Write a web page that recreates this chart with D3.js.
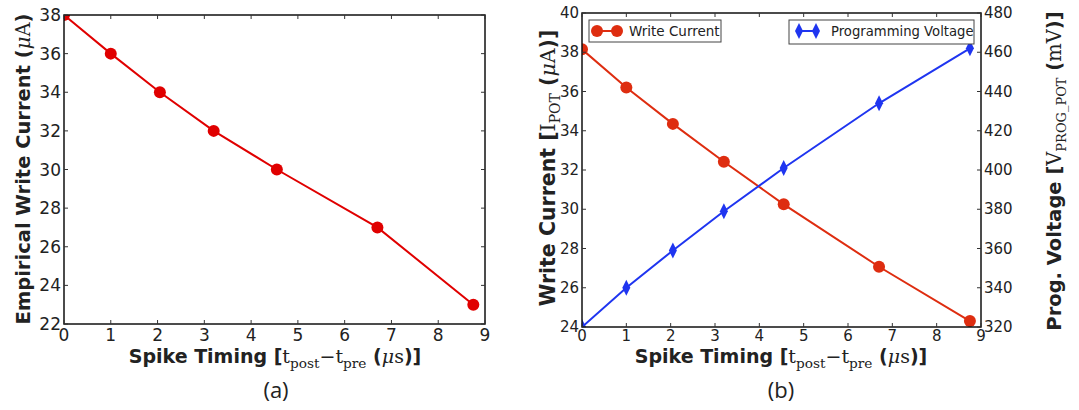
<!DOCTYPE html>
<html>
<head>
<meta charset="utf-8">
<script src="https://cdn.jsdelivr.net/npm/d3@7"></script>
<style>
  body { margin: 0; background: #fff; }
  svg text { fill: #222; }
</style>
</head>
<body>
<svg id="chart" width="1079" height="410"></svg>
<script>
// panel (a)
const timingA = [0, 1.0, 2.05, 3.2, 4.55, 6.7, 8.75];
const currentA = [38, 36, 34, 32, 30, 27, 23];
const xTicksA = [0, 1, 2, 3, 4, 5, 6, 7, 8, 9];
const yTicksA = [22, 24, 26, 28, 30, 32, 34, 36, 38];

// panel (b)
const timingB = [0, 1.0, 2.05, 3.2, 4.55, 6.7, 8.75];
const currentB = [38.15, 36.2, 34.35, 32.42, 30.25, 27.07, 24.3];
const voltageB = [320, 340, 359, 379, 401, 434, 462];
const xTicksB = [0, 1, 2, 3, 4, 5, 6, 7, 8, 9];
const yTicksB = [24, 26, 28, 30, 32, 34, 36, 38, 40];
const vTicksB = [320, 340, 360, 380, 400, 420, 440, 460, 480];

const svg = d3.select("#chart");
const sans = "'DejaVu Sans', sans-serif";
const serif = "'DejaVu Serif', 'Liberation Serif', serif";

function frame(g, x, y, w, h) {
  g.append("rect").attr("x", x.range()[0]).attr("y", y.range()[1])
    .attr("width", w).attr("height", h)
    .attr("fill", "none").attr("stroke", "#111").attr("stroke-width", 1.5);
}

// inward ticks on all four sides, matplotlib-style
function ticks(g, x, y, xt, yt, yRight, yr) {
  const tl = 4;
  const [x0, x1] = x.range(), [y0, y1] = y.range();
  xt.forEach(t => {
    g.append("line").attr("x1", x(t)).attr("x2", x(t)).attr("y1", y0).attr("y2", y0 - tl).attr("stroke", "#333");
    g.append("line").attr("x1", x(t)).attr("x2", x(t)).attr("y1", y1).attr("y2", y1 + tl).attr("stroke", "#333");
  });
  yt.forEach(t => {
    g.append("line").attr("x1", x0).attr("x2", x0 + tl).attr("y1", y(t)).attr("y2", y(t)).attr("stroke", "#333");
    if (!yRight) g.append("line").attr("x1", x1).attr("x2", x1 - tl).attr("y1", y(t)).attr("y2", y(t)).attr("stroke", "#333");
  });
  if (yRight) yr.forEach(t => {
    g.append("line").attr("x1", x1).attr("x2", x1 - tl).attr("y1", yRight(t)).attr("y2", yRight(t)).attr("stroke", "#333");
  });
}

// "Spike Timing [t_post − t_pre (μs)]"
function xTitle(g, cx, cy, size) {
  const t = g.append("text").attr("x", cx).attr("y", cy).attr("text-anchor", "middle")
    .attr("font-size", size).attr("font-family", sans).attr("font-weight", "bold");
  const m = () => t.append("tspan").attr("font-family", serif).attr("font-weight", "normal");
  t.append("tspan").text("Spike Timing [");
  m().text("t");
  m().attr("font-size", size * 0.72).attr("dy", 5).text("post");
  m().attr("dy", -5).text("\u2212t");
  m().attr("font-size", size * 0.72).attr("dy", 5).text("pre");
  t.append("tspan").attr("dy", -5).text(" (");
  m().attr("font-style", "italic").text("\u03bc");
  m().text("s");
  t.append("tspan").text(")]");
}

// ---------- panel (a) ----------
{
  const xA = d3.scaleLinear().domain([0, 9]).range([64, 485]);
  const yA = d3.scaleLinear().domain([22, 38]).range([324, 15]);
  const g = svg.append("g");

  g.append("clipPath").attr("id", "clipA").append("rect")
    .attr("x", 64).attr("y", 15).attr("width", 421).attr("height", 309);

  const pts = timingA.map((d, i) => [d, currentA[i]]);
  const line = d3.line().x(d => xA(d[0])).y(d => yA(d[1]));
  const pg = g.append("g").attr("clip-path", "url(#clipA)");
  pg.append("path").datum(pts).attr("d", line).attr("fill", "none")
    .attr("stroke", "#e00000").attr("stroke-width", 2);
  pg.selectAll("circle").data(pts).join("circle")
    .attr("cx", d => xA(d[0])).attr("cy", d => yA(d[1])).attr("r", 6)
    .attr("fill", "#e00000");

  frame(g, xA, yA, 421, 309);
  ticks(g, xA, yA, xTicksA, yTicksA);

  g.selectAll(".xl").data(xTicksA).join("text")
    .attr("x", d => xA(d)).attr("y", 341).attr("text-anchor", "middle")
    .attr("font-family", sans).attr("font-size", 17).text(d => d);
  g.selectAll(".yl").data(yTicksA).join("text")
    .attr("x", 61).attr("y", d => yA(d) + 6).attr("text-anchor", "end")
    .attr("font-family", sans).attr("font-size", 17).text(d => d);

  xTitle(g, 275, 363, 19);

  const yt = g.append("text").attr("transform", "translate(30,169) rotate(-90)")
    .attr("text-anchor", "middle").attr("font-family", sans).attr("font-weight", "bold").attr("font-size", 19.5);
  yt.append("tspan").text("Empirical Write Current (");
  yt.append("tspan").attr("font-family", serif).attr("font-style", "italic").attr("font-weight", "normal").text("\u03bc");
  yt.append("tspan").attr("font-family", serif).attr("font-weight", "normal").text("A");
  yt.append("tspan").text(")");

  g.append("text").attr("x", 276).attr("y", 398).attr("text-anchor", "middle")
    .attr("font-family", "'Open Sans', sans-serif").attr("font-size", 22).text("(a)");
}

// ---------- panel (b) ----------
{
  const xB = d3.scaleLinear().domain([0, 9]).range([582, 981]);
  const yB = d3.scaleLinear().domain([24, 40]).range([327, 13]);
  const vB = d3.scaleLinear().domain([320, 480]).range([327, 13]);
  const g = svg.append("g");
  const red = "#de2d10", blue = "#1f35f0";

  g.append("clipPath").attr("id", "clipB").append("rect")
    .attr("x", 582).attr("y", 13).attr("width", 399).attr("height", 314);

  const ptsI = timingB.map((d, i) => [d, currentB[i]]);
  const ptsV = timingB.map((d, i) => [d, voltageB[i]]);
  const pg = g.append("g").attr("clip-path", "url(#clipB)");

  pg.append("path").datum(ptsI).attr("d", d3.line().x(d => xB(d[0])).y(d => yB(d[1])))
    .attr("fill", "none").attr("stroke", red).attr("stroke-width", 2);
  pg.append("path").datum(ptsV).attr("d", d3.line().x(d => xB(d[0])).y(d => vB(d[1])))
    .attr("fill", "none").attr("stroke", blue).attr("stroke-width", 2);

  const diamond = "M0,-8L4,0L0,8L-4,0Z";
  pg.selectAll(".dv").data(ptsV).join("path")
    .attr("transform", d => `translate(${xB(d[0])},${vB(d[1])})`)
    .attr("d", diamond).attr("fill", blue);
  pg.selectAll(".ci").data(ptsI).join("circle")
    .attr("cx", d => xB(d[0])).attr("cy", d => yB(d[1])).attr("r", 6).attr("fill", red);

  frame(g, xB, yB, 399, 314);
  ticks(g, xB, yB, xTicksB, yTicksB, vB, vTicksB);

  g.selectAll(".xl").data(xTicksB).join("text")
    .attr("x", d => xB(d)).attr("y", 341).attr("text-anchor", "middle")
    .attr("font-family", sans).attr("font-size", 15).text(d => d);
  g.selectAll(".yl").data(yTicksB).join("text")
    .attr("x", 579).attr("y", d => yB(d) + 5).attr("text-anchor", "end")
    .attr("font-family", sans).attr("font-size", 15).text(d => d);
  g.selectAll(".vl").data(vTicksB).join("text")
    .attr("x", 984).attr("y", d => vB(d) + 5).attr("text-anchor", "start")
    .attr("font-family", sans).attr("font-size", 15).text(d => d);

  // legends
  const lg1 = g.append("g");
  lg1.append("rect").attr("x", 589).attr("y", 20).attr("width", 132).attr("height", 22)
    .attr("fill", "#fff").attr("stroke", "#444");
  lg1.append("line").attr("x1", 597).attr("x2", 617).attr("y1", 31).attr("y2", 31).attr("stroke", red).attr("stroke-width", 2);
  lg1.selectAll("circle").data([597, 617]).join("circle").attr("cx", d => d).attr("cy", 31).attr("r", 6).attr("fill", red);
  lg1.append("text").attr("x", 629).attr("y", 36).attr("font-family", sans).attr("font-size", 13.5).text("Write Current");

  const lg2 = g.append("g");
  lg2.append("rect").attr("x", 789).attr("y", 20).attr("width", 185).attr("height", 24)
    .attr("fill", "#fff").attr("stroke", "#444");
  lg2.append("line").attr("x1", 799).attr("x2", 816).attr("y1", 31).attr("y2", 31).attr("stroke", blue).attr("stroke-width", 2);
  lg2.selectAll("path").data([799, 816]).join("path")
    .attr("transform", d => `translate(${d},31)`).attr("d", diamond).attr("fill", blue);
  lg2.append("text").attr("x", 831).attr("y", 36).attr("font-family", sans).attr("font-size", 13.2).text("Programming Voltage");

  xTitle(g, 781, 363, 19);

  const yt = g.append("text").attr("transform", "translate(555,168) rotate(-90)")
    .attr("text-anchor", "middle").attr("font-family", sans).attr("font-weight", "bold").attr("font-size", 20.5);
  yt.append("tspan").text("Write Current [");
  yt.append("tspan").attr("font-family", serif).attr("font-weight", "normal").text("I");
  yt.append("tspan").attr("font-family", serif).attr("font-weight", "normal").attr("font-size", 14).attr("dy", 5).text("POT");
  yt.append("tspan").attr("dy", -5).text(" (");
  yt.append("tspan").attr("font-family", serif).attr("font-style", "italic").attr("font-weight", "normal").text("\u03bc");
  yt.append("tspan").attr("font-family", serif).attr("font-weight", "normal").text("A");
  yt.append("tspan").text(")]");

  const vt = g.append("text").attr("transform", "translate(1061,171) rotate(-90)")
    .attr("text-anchor", "middle").attr("font-family", sans).attr("font-weight", "bold").attr("font-size", 19.5);
  vt.append("tspan").text("Prog. Voltage [");
  vt.append("tspan").attr("font-family", serif).attr("font-weight", "normal").text("V");
  vt.append("tspan").attr("font-family", serif).attr("font-weight", "normal").attr("font-size", 13).attr("dy", 5).text("PROG_POT");
  vt.append("tspan").attr("dy", -5).text(" (");
  vt.append("tspan").attr("font-family", serif).attr("font-weight", "normal").text("mV");
  vt.append("tspan").text(")]");

  g.append("text").attr("x", 781).attr("y", 398).attr("text-anchor", "middle")
    .attr("font-family", "'Open Sans', sans-serif").attr("font-size", 22).text("(b)");
}
</script>
</body>
</html>
